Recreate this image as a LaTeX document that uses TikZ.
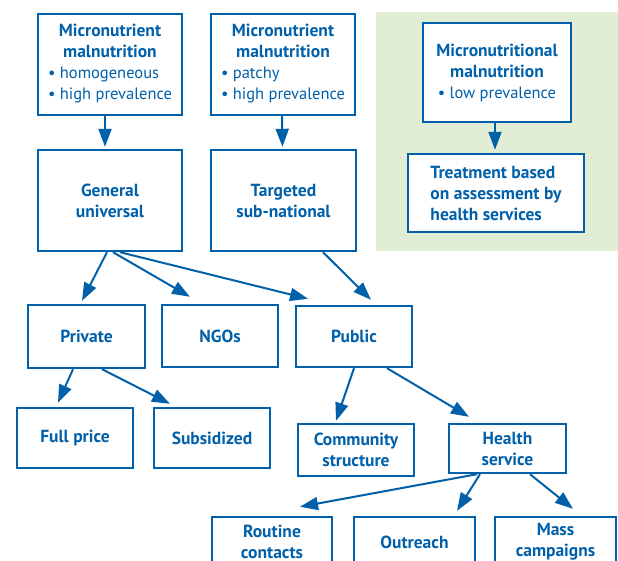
\documentclass[tikz,border=0pt]{standalone}
\usepackage{fontspec}
\setmainfont{PT Sans}
\usetikzlibrary{arrows.meta}
\definecolor{boxBlue}{RGB}{0,96,170}
\definecolor{panelGreen}{RGB}{225,237,213}
\newcommand{\plainline}{\fontsize{16.5}{21}\selectfont\mdseries}

\begin{document}
\begin{tikzpicture}
[x=1pt,y=-1pt,
  boxDecorate/.style={shape=rectangle,draw=boxBlue,line width=2.4pt,fill=white,
    text=boxBlue,font=\fontsize{17.5}{21}\selectfont\bfseries,align=center,inner sep=2pt},
  lineDecorate/.style={draw=boxBlue,line width=2pt,-{Triangle[length=18pt,width=13pt]}}]
\useasboundingbox (0,0) rectangle (618,561);
\clip (0,0) rectangle (618,561);
%% shaded panel
\fill[panelGreen] (376,12) rectangle (618,251);
%% top boxes
\node (mmA) at (110,64.5) [boxDecorate,minimum width=144pt,minimum height=101pt]
  {Micronutrient\\malnutrition\\\plainline\begin{tabular}[t]{@{}l@{}}\textbullet\ homogeneous\\\textbullet\ high prevalence\end{tabular}};
\node (mmB) at (283,64.5) [boxDecorate,minimum width=144pt,minimum height=101pt]
  {Micronutrient\\malnutrition\\\plainline\begin{tabular}[t]{@{}l@{}}\textbullet\ patchy\\\textbullet\ high prevalence\end{tabular}};
\node (mmC) at (497,72.5) [boxDecorate,minimum width=148pt,minimum height=99pt]
  {Micronutritional\\malnutrition\\\plainline\textbullet\ low prevalence};
\node (treat) at (496,193) [boxDecorate,minimum width=176pt,minimum height=78pt,align=left]
  {Treatment based\\on assessment by\\health services};
%% other boxes
\foreach \nodename/\x/\y/\w/\h/\nodetext in {
  general/110/200.5/144/101/{General\\universal},
  targeted/283.5/200.5/145/101/{Targeted\\sub-national},
  private/86.5/336.5/117/63/Private,
  ngos/220/336/116/62/NGOs,
  public/354/336.5/116/61/Public,
  fullprice/75/438/116/60/Full price,
  subsid/212/438/116/60/Subsidized,
  community/356/450/116/52/{Community\\structure},
  health/507.5/448.5/117/49/{Health\\service},
  routine/272/542/120/50/{Routine\\contacts},
  outreach/414.5/542/121/50/Outreach,
  mass/555.5/542/121/50/{Mass\\campaigns}}
{
  \node (\nodename) at (\x,\y) [boxDecorate,minimum width=\w pt,minimum height=\h pt] {\nodetext};
}
%% arrows
\path
\foreach \startnode/\sx/\endnode/\ex/\ey in {
  mmA/-5/general/-5/2, mmB/-1/targeted/-1/2, mmC/-2/treat/-1/3,
  general/-3/private/-4.5/3, general/3/ngos/-30/7, general/10/public/-46/6,
  targeted/39.5/public/17/5,
  private/-13.5/fullprice/-17/4, private/15.5/subsid/-42/3,
  public/0/community/-20/2, public/33/health/-38.5/6,
  health/-30.5/routine/28/9, health/-27.5/outreach/42.5/5, health/22.5/mass/17.5/7}
{
  ([xshift=\sx pt]\startnode.south) edge[lineDecorate] ([xshift=\ex pt,yshift=\ey pt]\endnode.north)
};
\end{tikzpicture}
\end{document}
